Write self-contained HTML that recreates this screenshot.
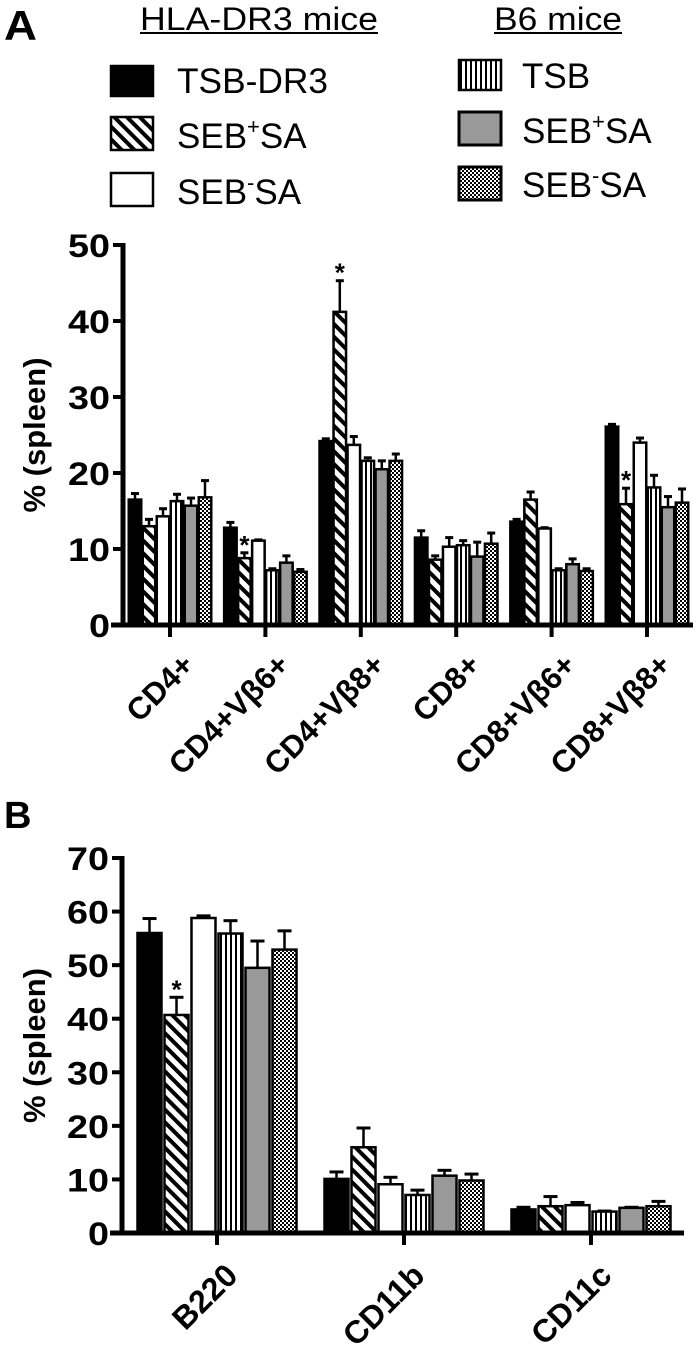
<!DOCTYPE html>
<html><head><meta charset="utf-8"><style>
html,body{margin:0;padding:0;background:#fff;}
svg{display:block;font-family:"Liberation Sans",Arial,sans-serif;}
</style></head><body>
<svg id="fig" width="697" height="1352" viewBox="0 0 697 1352" xmlns="http://www.w3.org/2000/svg">
<defs>
<pattern id="diag" patternUnits="userSpaceOnUse" width="9" height="9" patternTransform="rotate(45)">
<rect width="9" height="9" fill="#fff"/><rect x="0" y="0" width="9" height="4" fill="#000"/></pattern>
<pattern id="vert" patternUnits="userSpaceOnUse" width="5" height="5">
<rect width="5" height="5" fill="#fff"/><rect x="0" y="0" width="2" height="5" fill="#000"/></pattern>
<pattern id="check" patternUnits="userSpaceOnUse" width="4" height="4">
<rect width="4" height="4" fill="#fff"/><rect width="2" height="2" fill="#000"/><rect x="2" y="2" width="2" height="2" fill="#000"/></pattern>
</defs>
<text x="4" y="40" font-size="42" font-weight="bold" textLength="33" lengthAdjust="spacingAndGlyphs">A</text>
<text x="4" y="828" font-size="38" font-weight="bold">B</text>
<g>
<text x="140" y="30" font-size="32" textLength="238" lengthAdjust="spacingAndGlyphs">HLA-DR3 mice</text>
<rect x="140" y="32" width="238" height="2" fill="#000"/>
<text x="494" y="30" font-size="32" textLength="128" lengthAdjust="spacingAndGlyphs">B6 mice</text>
<rect x="494" y="32" width="128" height="2" fill="#000"/>
<g><rect x="111" y="66" width="42" height="30" fill="#000" stroke="#000" stroke-width="2.5"/><text x="177" y="93" font-size="35" textLength="151" lengthAdjust="spacingAndGlyphs">TSB-DR3</text></g>
<g><rect x="111" y="117" width="42" height="33" fill="url(#diag)" stroke="#000" stroke-width="2.5"/><text x="177" y="148" font-size="35">SEB<tspan font-size="22" dy="-14">+</tspan><tspan dy="14">SA</tspan></text></g>
<g><rect x="111" y="173" width="42" height="33" fill="#fff" stroke="#000" stroke-width="2.5"/><text x="177" y="204" font-size="35">SEB<tspan font-size="22" dy="-14">-</tspan><tspan dy="14">SA</tspan></text></g>
<g><rect x="459" y="60" width="42" height="30" fill="url(#vert)" stroke="#000" stroke-width="2.5"/><text x="522" y="88" font-size="35">TSB</text></g>
<g><rect x="459" y="112" width="42" height="33" fill="#999" stroke="#000" stroke-width="3"/><text x="522" y="143" font-size="35">SEB<tspan font-size="22" dy="-14">+</tspan><tspan dy="14">SA</tspan></text></g>
<g><rect x="459" y="167" width="42" height="33" fill="url(#check)" stroke="#000" stroke-width="3"/><text x="522" y="197" font-size="35">SEB<tspan font-size="22" dy="-14">-</tspan><tspan dy="14">SA</tspan></text></g>
</g>
<g id="chartA"></g>
<g id="chartB"></g>
</svg>
<script>
const fills = ["#000","url(#diag)","#fff","url(#vert)","#999","url(#check)"];
const seriesNames = ["TSB-DR3","SEB+SA DR3","SEB-SA DR3","TSB B6","SEB+SA B6","SEB-SA B6"];
const catsA = ["CD4+","CD4+Vβ6+","CD4+Vβ8+","CD8+","CD8+Vβ6+","CD8+Vβ8+"];
const valsA = [[16.5,13,14.3,16.3,15.7,16.8],[12.8,8.8,11.1,7.2,8.2,7.0],[24.2,41.2,23.7,21.6,20.5,21.6],[11.5,8.6,10.3,10.5,9.0,10.7],[13.6,16.5,12.7,7.2,8.0,7.1],[26.1,15.9,24.0,18.1,15.5,16.1]];
const errA = [[17.3,13.9,15.3,17.2,16.7,19.0],[13.5,9.5,11.2,7.4,9.1,7.3],[24.5,45.3,24.8,22.0,21.6,22.5],[12.4,9.1,11.5,11.1,10.9,12.1],[13.9,17.5,12.8,7.4,8.7,7.4],[26.4,18.0,24.6,19.7,16.9,17.9]];
const starsA = [[1,1],[2,1],[5,1]];
const ticksA = [0,10,20,30,40,50];
const catsB = ["B220","CD11b","CD11c"];
const valsB = [[56,40.7,58.8,55.9,49.5,52.9],[10.1,16,9.1,7.1,10.7,9.8],[4.4,5.0,5.2,4.0,4.7,5.0]];
const errB = [[58.7,44,59.2,58.3,54.5,56.4],[11.4,19.6,10.4,8.0,11.7,11.0],[4.8,6.8,5.7,4.1,4.8,5.9]];
const starsB = [[0,1]];
const ticksB = [0,10,20,30,40,50,60,70];
const NS="http://www.w3.org/2000/svg";
function mk(p,tag,attrs){const e=document.createElementNS(NS,tag);for(const k in attrs)e.setAttribute(k,attrs[k]);p.appendChild(e);return e;}
function draw(g,cfg,cats,vals,errs,stars,ticks){
  const y=v=>cfg.y0-(v-0)*(cfg.y0-cfg.yTop)/ticks[ticks.length-1];
  const xc=i=>cfg.x1+i*cfg.pitch;
  cats.forEach((c,i)=>{
    vals[i].forEach((v,j)=>{
      const bx=xc(i)+(j-3)*cfg.bp+ (cfg.bp-cfg.bw)/2;
      const er=mk(g,'line',{x1:bx+cfg.bw/2,x2:bx+cfg.bw/2,y1:y(v),y2:y(errs[i][j]),stroke:'#000','stroke-width':2.5});
      
      
      const cap=mk(g,'line',{x1:bx+cfg.bw/2-cfg.cap,x2:bx+cfg.bw/2+cfg.cap,y1:y(errs[i][j]),y2:y(errs[i][j]),stroke:'#000','stroke-width':3});
      
      
      const r=mk(g,'rect',{x:bx,y:y(v),width:cfg.bw,height:y(0)-y(v),fill:fills[j],stroke:'#000','stroke-width':2.5});
      
      
    });
    const t=mk(g,'line',{x1:xc(i),x2:xc(i),y1:cfg.y0,y2:cfg.y0+12,stroke:'#000','stroke-width':4});
    
    
    const lx=xc(i)+cfg.ldx, ly=cfg.y0+cfg.ldy;
    const lab=mk(g,'text',{x:lx,y:ly,'font-size':cfg.lf,'font-weight':'bold','text-anchor':'end',transform:`rotate(-45 ${lx} ${ly})`,'dominant-baseline':'hanging'});
    lab.textContent=c;
    
    
  });
  stars.forEach(([i,j])=>{
    const bx=xc(i)+(j-3)*cfg.bp+cfg.bp/2;
    const s=mk(g,'text',{x:bx,y:y(errs[i][j])+1,'font-size':26,'font-weight':'bold','text-anchor':'middle'});
    s.textContent='*';
    
    
  });
  const ya=mk(g,'line',{x1:cfg.ax,x2:cfg.ax,y1:y(ticks[ticks.length-1])-2,y2:cfg.y0+2,stroke:'#000','stroke-width':5});
  
  
  const xa=mk(g,'line',{x1:cfg.ax-12,x2:cfg.xEnd,y1:cfg.y0,y2:cfg.y0,stroke:'#000','stroke-width':5});
  
  
  ticks.forEach(t=>{
    const tk=mk(g,'line',{x1:cfg.ax-10,x2:cfg.ax,y1:y(t),y2:y(t),stroke:'#000','stroke-width':4});
    
    
    const tl=mk(g,'text',{x:cfg.ax-13,y:y(t)+12,'font-size':32,'font-weight':'bold','text-anchor':'end',textLength:String(t).length*21,lengthAdjust:'spacingAndGlyphs'});
    tl.textContent=t;
    
    
  });
  const cy=(y(ticks[ticks.length-1])+cfg.y0)/2;
  const tt=mk(g,'text',{x:45,y:cy,'font-size':31,'font-weight':'bold','text-anchor':'middle',transform:`rotate(-90 45 ${cy})`});
  tt.textContent='% (spleen)';
  
  
}
draw(document.getElementById('chartA'),{y0:625,yTop:245,x1:170,pitch:95.4,bp:14,bw:12.5,cap:4,ax:123,xEnd:693,lf:31,ldx:10,ldy:26},catsA,valsA,errA,starsA,ticksA);
draw(document.getElementById('chartB'),{y0:1233,yTop:858,x1:217,pitch:187,bp:27,bw:24,cap:7,ax:122,xEnd:684,lf:32,ldx:6,ldy:28},catsB,valsB,errB,starsB,ticksB);
</script>
</body></html>
